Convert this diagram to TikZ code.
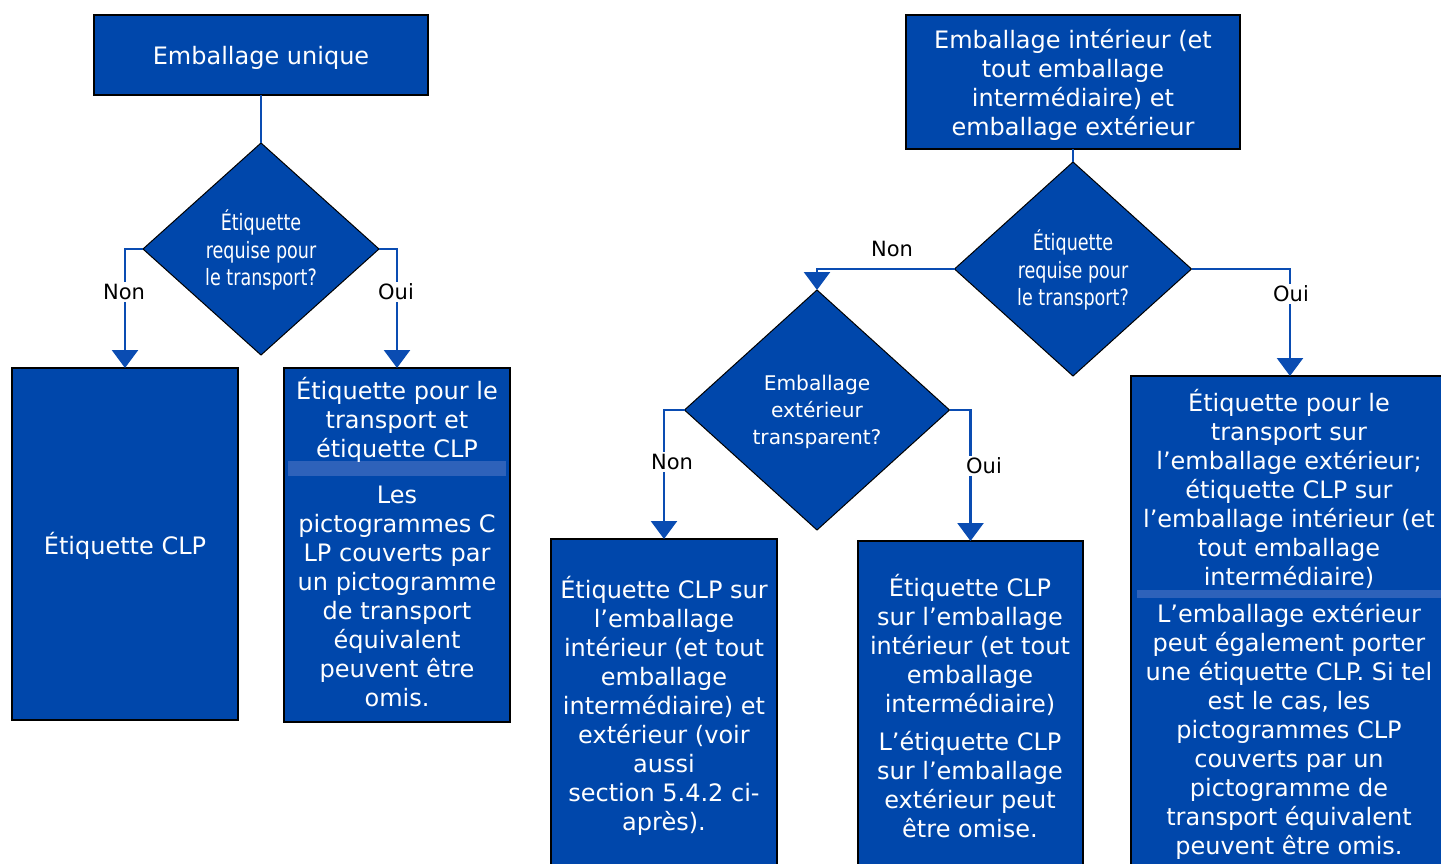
\documentclass[tikz,border=0pt]{standalone}
\usepackage{fontspec}
\setmainfont{DejaVu Sans}
\newfontfamily\diafont[FakeStretch=0.78]{DejaVu Sans}
\usetikzlibrary{shapes.geometric,arrows.meta}
\definecolor{boxblue}{RGB}{0,71,171}
\definecolor{lineblue}{RGB}{10,76,178}
\definecolor{bandblue}{RGB}{46,98,186}
\tikzset{
  box/.style={draw=black, line width=1.6pt, fill=boxblue, inner sep=0pt, outer sep=0pt},
  dia/.style={diamond, draw=black, line width=1pt, fill=boxblue, inner sep=0pt, outer sep=0pt},
  boxtext/.style={text=white, align=center, inner sep=0pt, font=\fontsize{24}{29}\selectfont},
  diatext/.style={text=white, align=center, inner sep=0pt, font=\diafont\fontsize{22.5}{27.5}\selectfont},
  diatextb/.style={text=white, align=center, inner sep=0pt, font=\fontsize{20.2}{27}\selectfont},
  conn/.style={draw=lineblue, line width=2.5pt},
  arr/.style={conn, -{Triangle[width=26pt,length=18pt]}},
  lbl/.style={text=black, fill=white, inner sep=2pt, font=\fontsize{21}{24}\selectfont},
  band/.style={fill=bandblue, draw=none}
}
\begin{document}
\begin{tikzpicture}[x=1pt,y=-1pt]
\useasboundingbox[fill=white] (0,0) rectangle (1441,864);
% boxes
\node[box, minimum width=334pt, minimum height=80pt] (A) at (261,55) {};
\node[box, minimum width=226pt, minimum height=352pt] (B) at (125,544) {};
\node[box, minimum width=226pt, minimum height=354pt] (C) at (397,545) {};
\node[box, minimum width=334pt, minimum height=134pt] (E) at (1073,82) {};
\node[box, minimum width=226pt, minimum height=341pt] (H) at (664,709.5) {};
\node[box, minimum width=225pt, minimum height=339pt] (I) at (970.5,710.5) {};
\node[box, minimum width=318pt, minimum height=504pt] (G) at (1290,628) {};
% diamonds
\node[dia, minimum width=236pt, minimum height=212pt] (D1) at (261,249) {};
\node[dia, minimum width=237pt, minimum height=214pt] (D2) at (1073,269) {};
\node[dia, minimum width=265pt, minimum height=240pt] (D3) at (817,410) {};
% bands
\fill[band] (288,461) rectangle (506,476);
\fill[band] (1137,590) rectangle (1441,598);
% texts
\node[boxtext] (tA) at (261,58) {Emballage unique};
\node[boxtext] (tB) at (125,546) {Étiquette CLP};
\node[boxtext] (tC1) at (397,420) {Étiquette pour le\\transport et\\étiquette CLP};
\node[boxtext] (tC2) at (397,596) {Les\\pictogrammes C\\LP couverts par\\un pictogramme\\de transport\\équivalent\\peuvent être\\omis.};
\node[boxtext] (tE) at (1073,84.5) {Emballage intérieur (et\\tout emballage\\intermédiaire) et\\emballage extérieur};
\node[boxtext] (tH) at (664,706) {Étiquette CLP sur\\l’emballage\\intérieur (et tout\\emballage\\intermédiaire) et\\extérieur (voir\\aussi\\section 5.4.2 ci-\\après).};
\node[boxtext] (tI1) at (970,645) {Étiquette CLP\\sur l’emballage\\intérieur (et tout\\emballage\\intermédiaire)};
\node[boxtext] (tI2) at (970,785) {L’étiquette CLP\\sur l’emballage\\extérieur peut\\être omise.};
\node[boxtext] (tG1) at (1289,489) {Étiquette pour le\\transport sur\\l’emballage extérieur;\\étiquette CLP sur\\l’emballage intérieur (et\\tout emballage\\intermédiaire)};
\node[boxtext] (tG2) at (1289,731) {L’emballage extérieur\\peut également porter\\une étiquette CLP. Si tel\\est le cas, les\\pictogrammes CLP\\couverts par un\\pictogramme de\\transport équivalent\\peuvent être omis.};
\node[diatext] (tD1) at (261,250) {Étiquette\\requise pour\\le transport?};
\node[diatext] (tD2) at (1073,270) {Étiquette\\requise pour\\le transport?};
\node[diatextb] (tD3) at (817,412) {Emballage\\extérieur\\transparent?};
% connectors
\draw[conn] (A.south) -- (D1.north);
\draw[arr] (D1.west) -| (B.north);
\draw[arr] (D1.east) -| (C.north);
\draw[conn] (E.south) -- (D2.north);
\draw[arr] (D2.west) -| (D3.north);
\draw[arr] (D2.east) -| (G.north);
\draw[arr] (D3.west) -| (H.north);
\draw[arr] (D3.east) -| (I.north);
% labels
\node[lbl] (l1) at (124,292) {Non};
\node[lbl] (l2) at (396,292) {Oui};
\node[lbl, fill=none] (l3) at (892,249) {Non};
\node[lbl] (l4) at (1291,294) {Oui};
\node[lbl] (l5) at (672,462) {Non};
\node[lbl, anchor=west] (l6) at (964,466) {Oui};
\end{tikzpicture}
\end{document}
